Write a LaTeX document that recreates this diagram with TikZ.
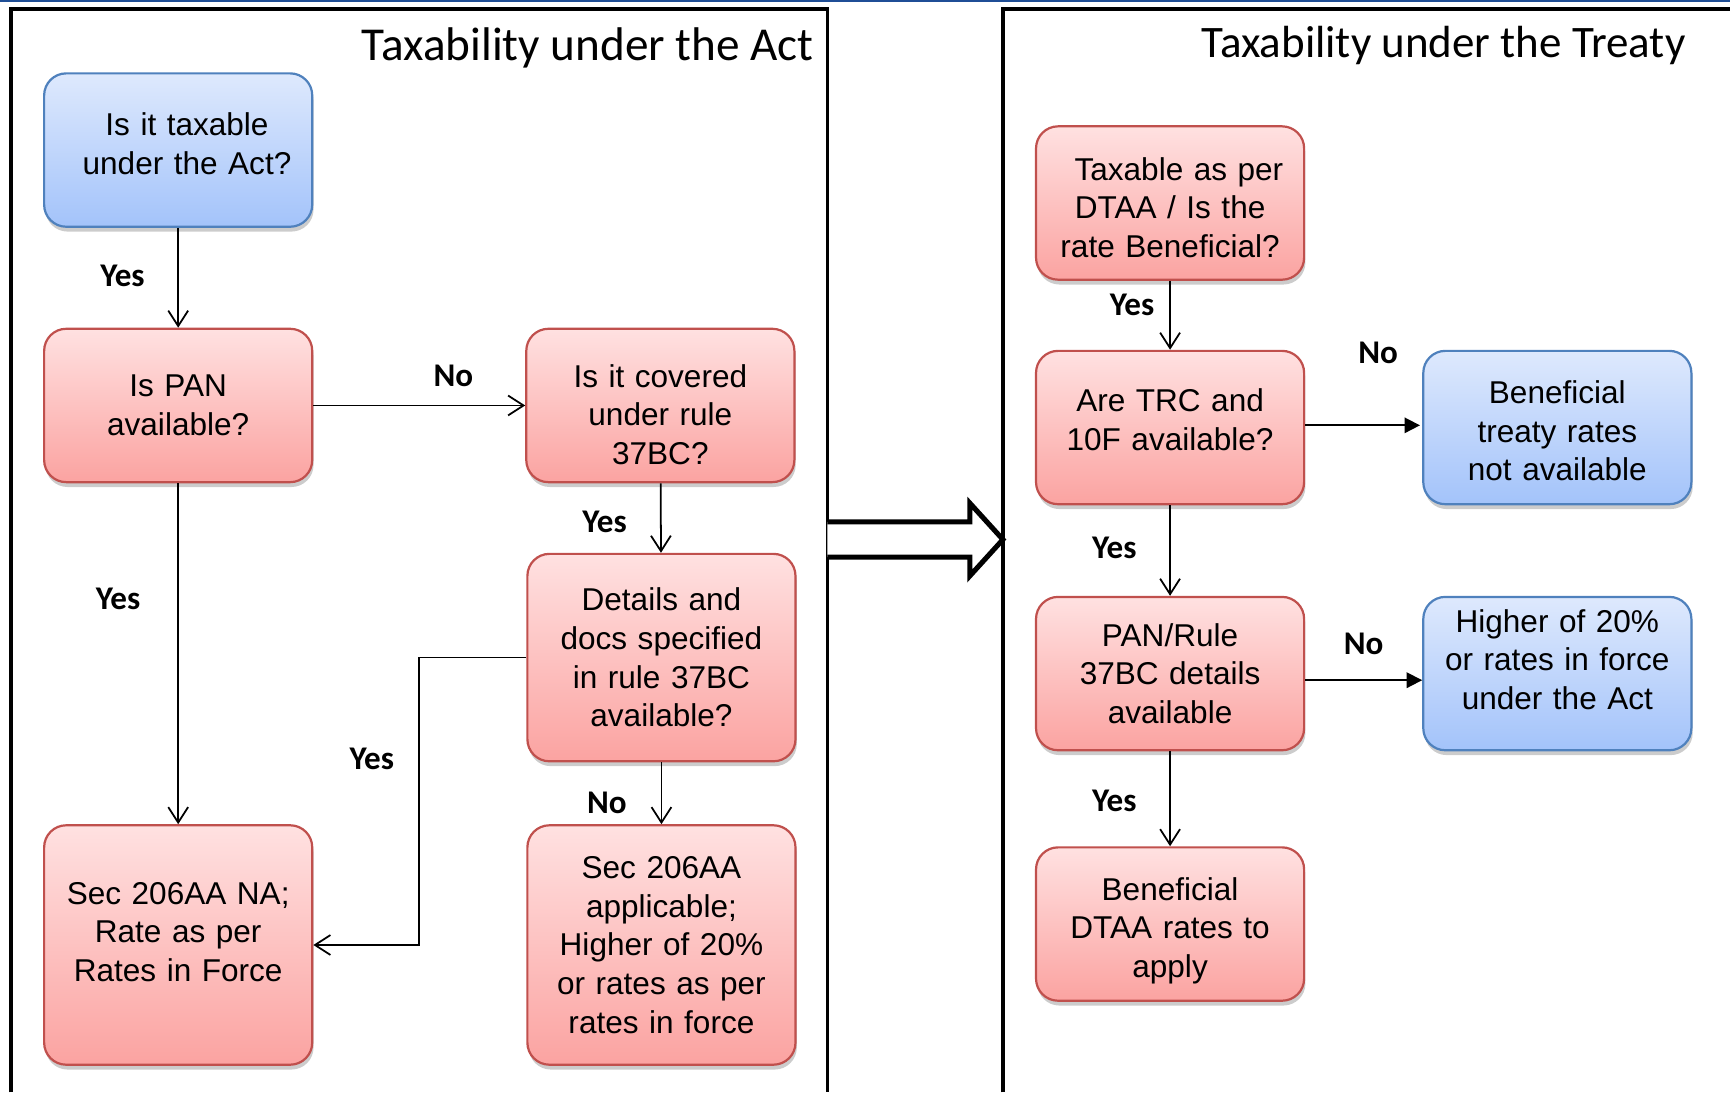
\documentclass[tikz,border=0pt]{standalone}
\usepackage{fontspec}
\setmainfont{Liberation Sans}
\newfontfamily\calfont{Carlito}
\usetikzlibrary{arrows.meta,shadows}

\definecolor{redtop}{HTML}{FFE1E1}
\definecolor{redbot}{HTML}{FBA3A1}
\definecolor{redline}{HTML}{C0504D}
\definecolor{bluetop}{HTML}{DEE9FD}
\definecolor{bluebot}{HTML}{A3C3FA}
\definecolor{blueline}{HTML}{4F81BD}
\definecolor{topline}{HTML}{1F4E96}

% push the text block of a box down / up
\newcommand{\padtop}[1]{\rule{0pt}{#1}}
\newcommand{\padbot}[1]{\rule[-#1]{0pt}{#1}}

\tikzset{
  box/.style={rectangle, rounded corners=10pt, line width=1pt,
    minimum width=121.5pt, minimum height=69.5pt, text width=116pt,
    align=center, inner sep=0pt, font=\fontsize{14.3}{17.5}\selectfont,
    drop shadow={opacity=0.4, shadow xshift=0.6pt, shadow yshift=-2.2pt}},
  redbox/.style={box, draw=redline, top color=redtop, bottom color=redbot},
  bluebox/.style={box, draw=blueline, top color=bluetop, bottom color=bluebot},
  arr/.style={-{Straight Barb[length=7pt,width=9pt]}, line width=0.8pt},
  arrf/.style={-{Triangle[length=7pt,width=7pt]}, line width=0.8pt},
  lbl/.style={font=\calfont\bfseries\fontsize{15}{18}\selectfont, inner sep=0pt},
  panel/.style={line width=1.8pt},
  title/.style={anchor=base east, inner sep=0pt}
}

\begin{document}
\begin{tikzpicture}[x=0.5pt,y=-0.5pt]

\useasboundingbox (0,0) rectangle (1568,990);
\draw[topline, line width=1pt] (0,1) -- (1568,1);

% panels
\draw[panel] (10,990) |- (750,8) -- (750,990);
\draw[panel] (909,990) |- (1568,8);
\node[title, font=\calfont\fontsize{21.4}{25}\selectfont] (acttitle) at (738,55) {Taxability under the Act};
\node[title, font=\calfont\fontsize{20.4}{25}\selectfont] (treatytitle) at (1528,52) {Taxability under the Treaty};

% hollow arrow between the panels
\draw[line width=2.3pt, fill=white, line join=miter] (750,473) -- (879,473) -- (879,456) -- (909,489)
  -- (879,522) -- (879,505) -- (750,505);

% the Act
\node[bluebox] (taxable) at (161.5,136) {\hspace*{8pt}Is it taxable\\\hspace*{8pt}under the Act?\padbot{6pt}};
\node[redbox] (pan) at (161.5,367.5) {Is PAN\\available?};
\node[redbox] (covered) at (598.5,367.5) {\padtop{18.4pt}Is it covered\\under rule\\37BC?};
\node[redbox, minimum height=94pt] (details) at (599.5,596) {Details and\\docs specified\\in rule 37BC\\available?};
\node[redbox, minimum height=108.5pt] (secna) at (161.5,856.5) {Sec 206AA NA;\\Rate as per\\Rates in Force\padbot{12pt}};
\node[redbox, minimum height=108.5pt] (secap) at (599.5,856.5) {Sec 206AA\\applicable;\\Higher of 20\%\\or rates as per\\rates in force};

\draw[arr] (taxable) -- (pan) node[lbl] (y1) at (111,250) {Yes};
\draw[arr] (pan) -- (secna) node[lbl] (y2) at (107,543) {Yes};
\draw[arr] (pan) -- (covered) node[lbl] (n1) at (411,341) {No};
\draw[arr] (covered) -- (details) node[lbl] (y3) at (548,473) {Yes};
\draw[arr] (details.west) -- ++(-97,0) |- (secna.east) node[lbl] (y4) at (337,688) {Yes};
\draw[arr] (details) -- (secap) node[lbl] (n2) at (550,728) {No};

% the Treaty
\node[redbox] (dtaa) at (1060.5,184) {\padtop{14.4pt}\hspace*{8pt}Taxable as per\\DTAA / Is the\\rate Beneficial?};
\node[redbox] (trc) at (1060.5,387.5) {Are TRC and\\10F available?\padbot{7pt}};
\node[bluebox] (notavail) at (1411.5,387.5) {\padtop{13.4pt}Beneficial\\treaty rates\\not available};
\node[redbox] (pandet) at (1060.5,610.5) {PAN/Rule\\37BC details\\available};
\node[bluebox] (higher) at (1411.5,610.5) {Higher of 20\%\\or rates in force\\under the Act\padbot{13pt}};
\node[redbox] (apply) at (1060.5,837.5) {\padtop{16.4pt}Beneficial\\DTAA rates to\\apply};

\draw[arr] (dtaa) -- (trc) node[lbl] (y5) at (1026,276) {Yes};
\draw[arrf] ([yshift=1pt]trc.east) -- ([xshift=-1pt,yshift=1pt]notavail.west) node[lbl] (n3) at (1249,320) {No};
\draw[arr] (trc) -- (pandet) node[lbl] (y6) at (1010,497) {Yes};
\draw[arrf] ([yshift=-3pt]pandet.east) -- ([yshift=-3pt]higher.west) node[lbl] (n4) at (1236,584) {No};
\draw[arr] (pandet) -- (apply) node[lbl] (y7) at (1010,726) {Yes};

\end{tikzpicture}
\end{document}
